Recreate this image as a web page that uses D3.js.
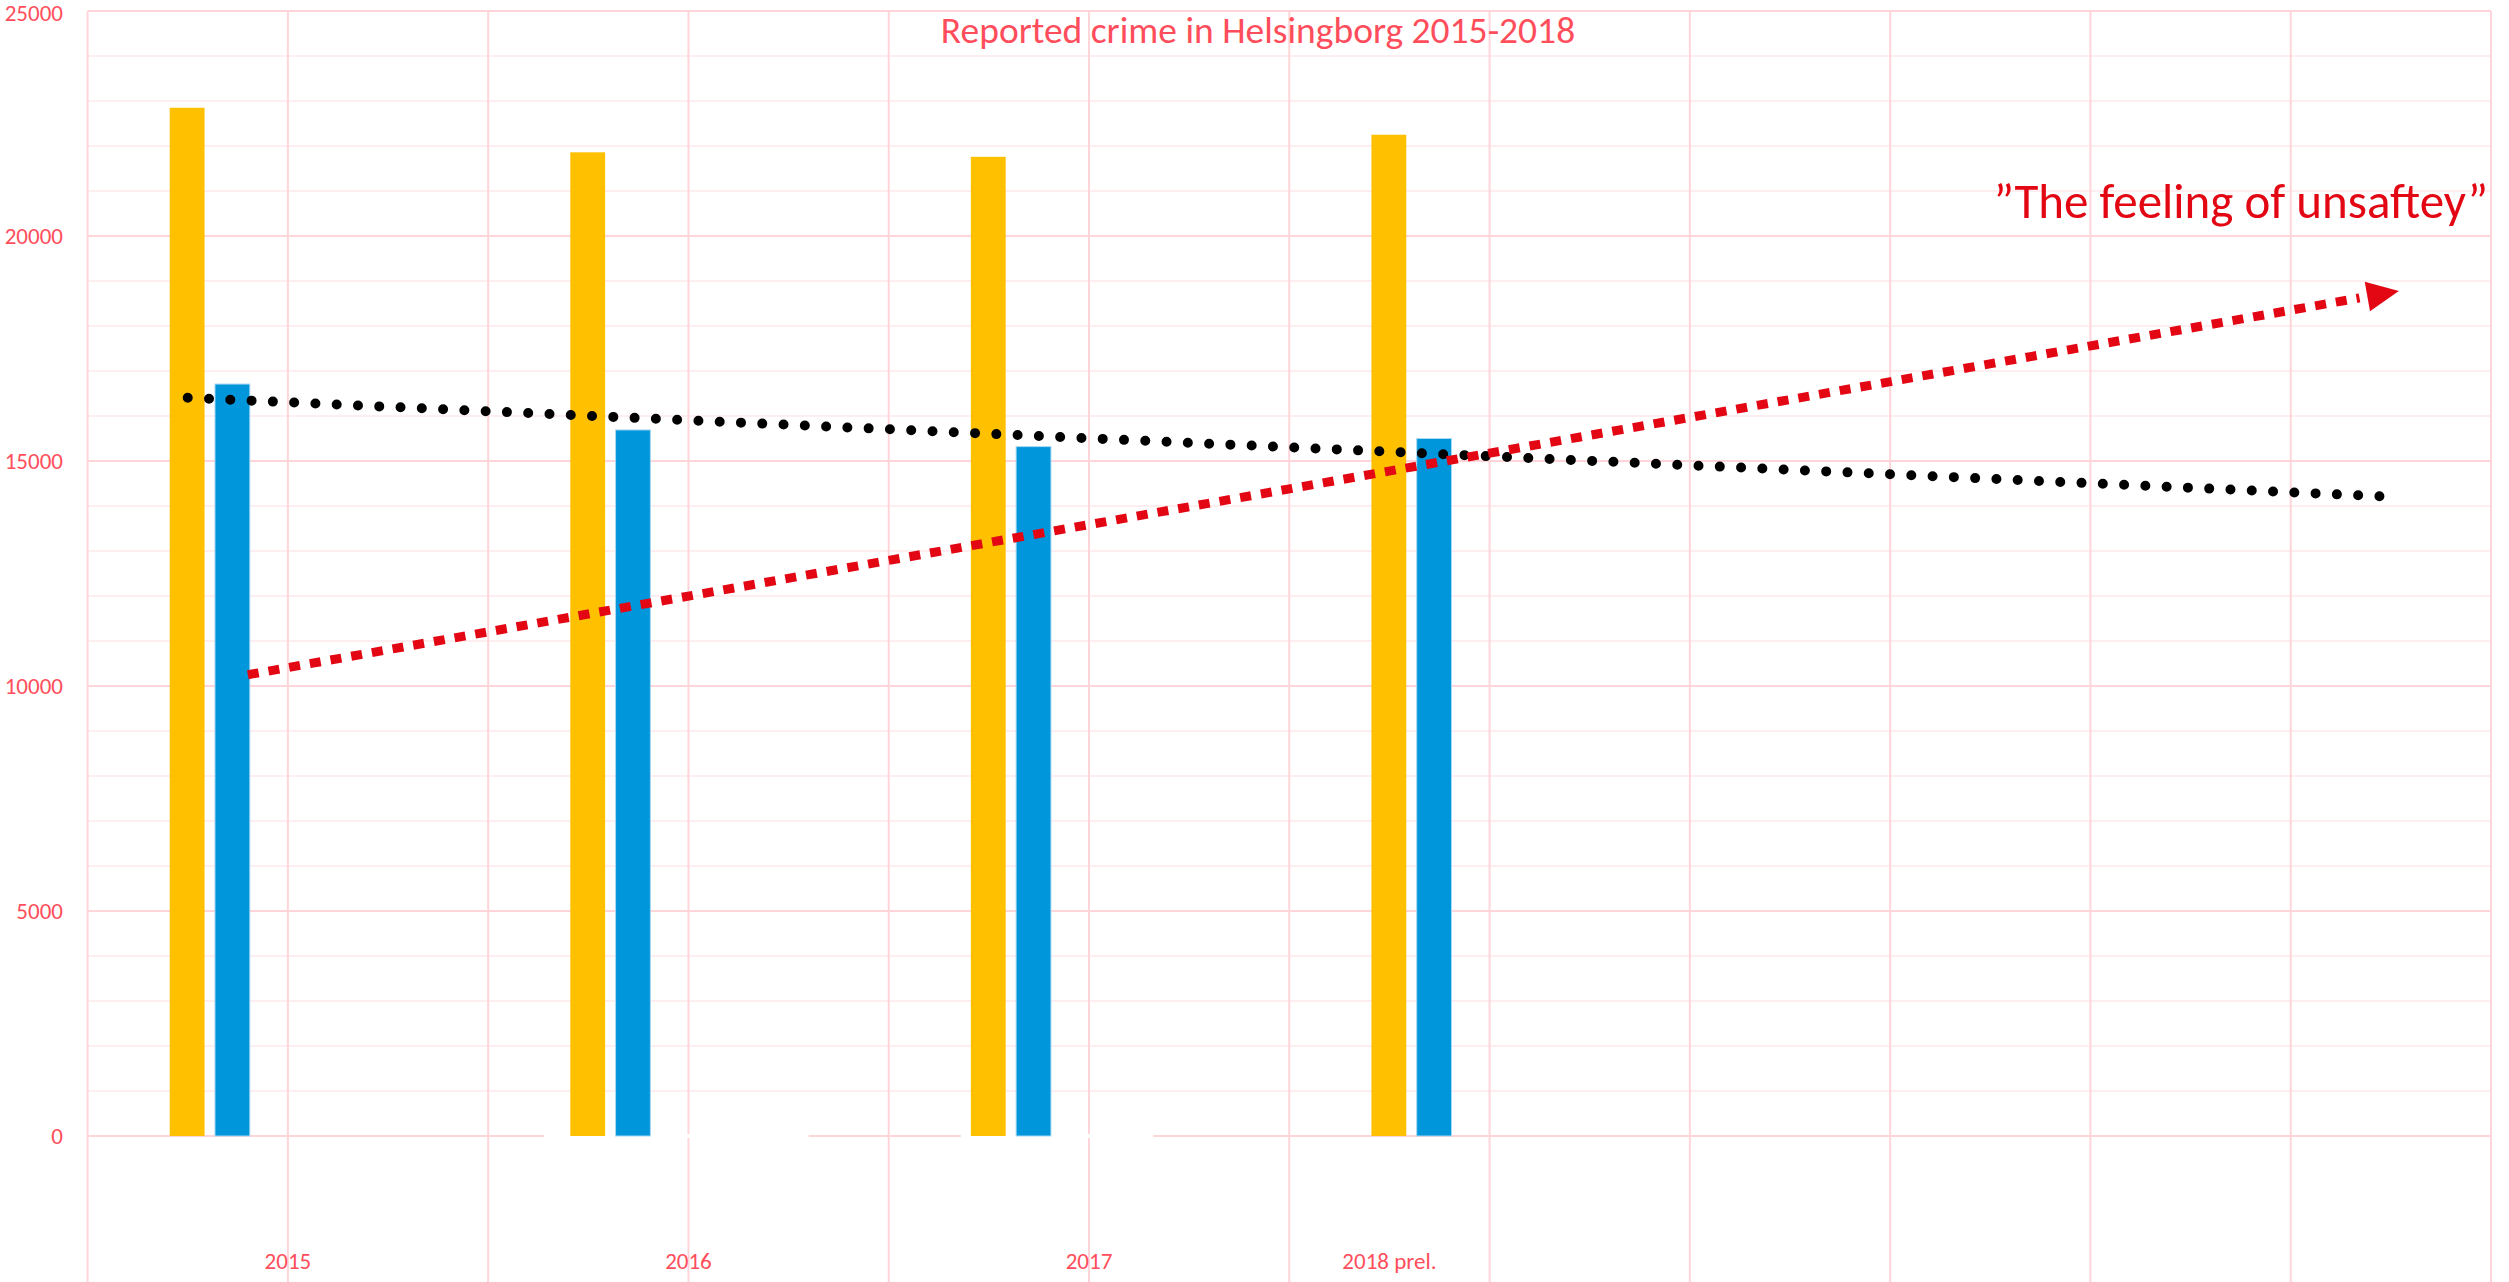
<!DOCTYPE html>
<html>
<head>
<meta charset="utf-8">
<script src="https://cdn.jsdelivr.net/npm/d3@7"></script>
<style>
  html, body { margin: 0; padding: 0; background: #fff; }
  svg { display: block; }
  text { font-family: Carlito, Calibri, Lato, sans-serif; }
</style>
</head>
<body>
<svg id="chart" width="2509" height="1282"></svg>
<script>
const categories = ["2015", "2016", "2017", "2018 prel."]
const yellowValues = [22850, 21860, 21760, 22250]
const blueValues = [16710, 15690, 15320, 15500]
const yTicks = [0, 5000, 10000, 15000, 20000, 25000]
const chartTitle = "Reported crime in Helsingborg 2015-2018"
const noteText = "\u201DThe feeling of unsaftey\u201D"
// hand drawn arrow, in category-index / value units
const arrowFrom = {i: -0.1, v: 10250}
const arrowTo = {i: 5.27, v: 18780}

const W = 2509, H = 1282
const plotLeft = 87.6, plotRight = 2491, plotTop = 11, zeroY = 1136

const svg = d3.select("#chart")

const x = d3.scaleLinear().domain([-0.5, 5.5]).range([plotLeft, plotRight])
const y = d3.scaleLinear().domain([0, 25000]).range([zeroY, plotTop])
const unit = x(1) - x(0)

const pink = "#ffd5d9"
const pinkLight = "#ffeef0"
const labelRed = "#ff4d5b"

// grid
const g = svg.append("g")
g.selectAll("line.minor")
  .data(d3.range(0, 25001, 1000).filter((v) => v % 5000 !== 0))
  .join("line")
  .attr("class", "minor")
  .attr("x1", plotLeft).attr("x2", plotRight)
  .attr("y1", (d) => y(d)).attr("y2", (d) => y(d))
  .attr("stroke", pinkLight).attr("stroke-width", 2)

g.selectAll("line.major")
  .data(yTicks)
  .join("line")
  .attr("class", "major")
  .attr("x1", plotLeft).attr("x2", plotRight)
  .attr("y1", (d) => y(d)).attr("y2", (d) => y(d))
  .attr("stroke", pink).attr("stroke-width", 2)

g.selectAll("line.vert")
  .data(d3.range(-0.5, 5.51, 0.5))
  .join("line")
  .attr("class", "vert")
  .attr("x1", (d) => x(d)).attr("x2", (d) => x(d))
  .attr("y1", plotTop).attr("y2", H)
  .attr("stroke", pink).attr("stroke-width", 2)

// white patches over the baseline, as in the source
g.selectAll("rect.patch")
  .data([[0.64, 1.3], [1.68, 2.16]])
  .join("rect")
  .attr("class", "patch")
  .attr("x", (d) => x(d[0]))
  .attr("width", (d) => x(d[1]) - x(d[0]))
  .attr("y", zeroY - 2).attr("height", 4)
  .attr("fill", "#fff")

// y tick labels
svg.append("g").selectAll("text")
  .data(yTicks)
  .join("text")
  .attr("x", 63)
  .attr("y", (d) => Math.max(y(d) + 8, 21))
  .attr("text-anchor", "end")
  .attr("font-size", 23)
  .attr("fill", labelRed)
  .text((d) => d)

// x labels
const labelIndex = [0, 1, 2, 2.75]
svg.append("g").selectAll("text")
  .data(categories)
  .join("text")
  .attr("x", (d, i) => x(labelIndex[i]))
  .attr("y", 1269)
  .attr("text-anchor", "middle")
  .attr("font-size", 23)
  .attr("fill", labelRed)
  .text((d) => d)

// bars
const barW = 0.087 * unit
const yellowOff = -0.295 * unit
const blueOff = -0.182 * unit

svg.append("g").selectAll("rect")
  .data(yellowValues)
  .join("rect")
  .attr("x", (d, i) => x(i) + yellowOff)
  .attr("y", (d) => y(d))
  .attr("width", barW)
  .attr("height", (d) => y(0) - y(d))
  .attr("fill", "#ffc000")

svg.append("g").selectAll("rect")
  .data(blueValues)
  .join("rect")
  .attr("x", (d, i) => x(i) + blueOff)
  .attr("y", (d) => y(d))
  .attr("width", barW)
  .attr("height", (d) => y(0) - y(d))
  .attr("fill", "#0096db")
  .attr("stroke", "#a9d8f3")
  .attr("stroke-width", 1)

// linear trend of the blue series, forecast forward
const idx = blueValues.map((d, i) => i)
const mx = d3.mean(idx), my = d3.mean(blueValues)
const slope = d3.sum(idx, (i) => (i - mx) * (blueValues[i] - my)) / d3.sum(idx, (i) => (i - mx) ** 2)
const icpt = my - slope * mx
const trendShift = -0.25
const trendEnd = 5.52

svg.append("line")
  .attr("x1", x(0 + trendShift)).attr("y1", y(icpt))
  .attr("x2", x(trendEnd + trendShift)).attr("y2", y(icpt + slope * trendEnd))
  .attr("stroke", "#000")
  .attr("stroke-width", 10)
  .attr("stroke-linecap", "round")
  .attr("stroke-dasharray", "0 21.3")

// red dashed arrow
const ax1 = x(arrowFrom.i), ay1 = y(arrowFrom.v)
const ax2 = x(arrowTo.i), ay2 = y(arrowTo.v)
const ang = Math.atan2(ay2 - ay1, ax2 - ax1)
const headLen = 32, headHalf = 15
const bx = ax2 - headLen * Math.cos(ang), by = ay2 - headLen * Math.sin(ang)

svg.append("line")
  .attr("x1", ax1).attr("y1", ay1)
  .attr("x2", bx - 8 * Math.cos(ang)).attr("y2", by - 8 * Math.sin(ang))
  .attr("stroke", "#e30613")
  .attr("stroke-width", 9)
  .attr("stroke-dasharray", "11 10")

svg.append("polygon")
  .attr("points", [
    [ax2, ay2],
    [bx + headHalf * Math.sin(ang), by - headHalf * Math.cos(ang)],
    [bx - headHalf * Math.sin(ang), by + headHalf * Math.cos(ang)],
  ].map((p) => p.join(",")).join(" "))
  .attr("fill", "#e30613")

// title and note
svg.append("text")
  .attr("x", 1258)
  .attr("y", 43)
  .attr("text-anchor", "middle")
  .attr("font-size", 37.5)
  .attr("fill", labelRed)
  .text(chartTitle)

svg.append("text")
  .attr("x", 2488)
  .attr("y", 218)
  .attr("text-anchor", "end")
  .attr("font-size", 49)
  .attr("fill", "#e30613")
  .text(noteText)
</script>
</body>
</html>
